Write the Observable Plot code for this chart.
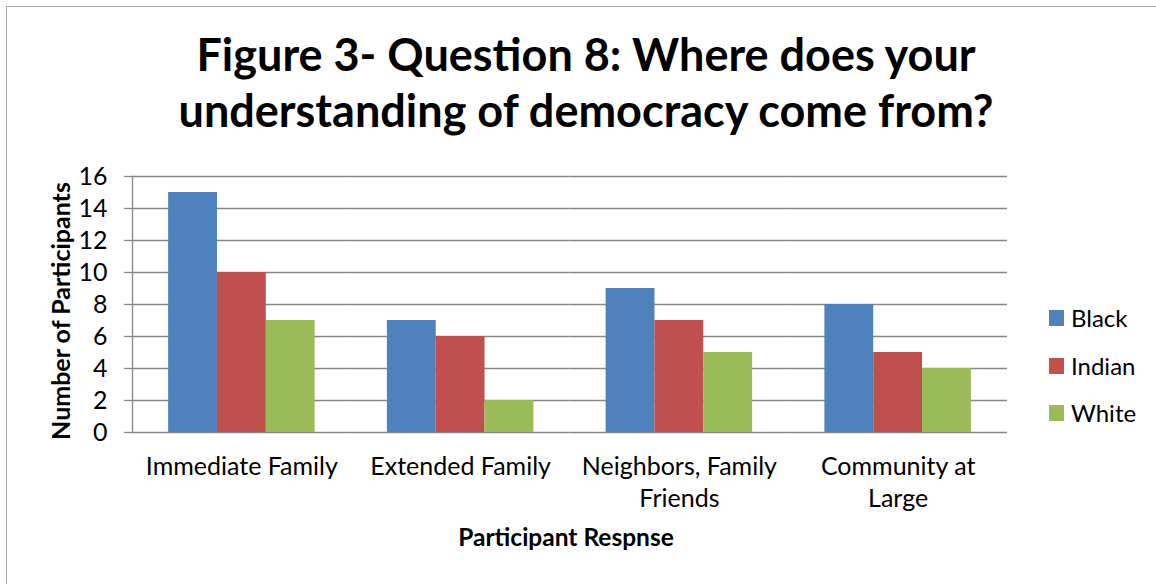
<!DOCTYPE html>
<html>
<head>
<meta charset="utf-8">
<script src="https://cdn.jsdelivr.net/npm/d3@7"></script>
<script src="https://cdn.jsdelivr.net/npm/@observablehq/plot@0.6"></script>
<style>
  html, body { margin: 0; padding: 0; background: #fff; }
  #chart { position: relative; width: 1156px; height: 584px; overflow: hidden; font-family: Lato, "Noto Sans", sans-serif; color: #000; }
  #border { position: absolute; left: 6px; top: 6px; width: 1300px; height: 700px; border-left: 1px solid #a6a6a6; border-top: 1px solid #a6a6a6; }
  #plot { position: absolute; left: 0; top: 0; }
  .title { position: absolute; left: 0; width: 1172px; text-align: center; font-weight: bold; font-size: 45px; white-space: nowrap; line-height: 1; }
  .ytitle { position: absolute; left: 60px; top: 311px; transform: translate(-50%, -50%) rotate(-90deg); font-weight: bold; font-size: 25px; white-space: nowrap; line-height: 1; }
  .xtitle { position: absolute; left: 0; width: 1132px; text-align: center; top: 525px; font-weight: bold; font-size: 24.5px; white-space: nowrap; line-height: 1; }
  .legend { position: absolute; left: 1049px; font-size: 24px; }
  .legend .item { position: absolute; left: 0; white-space: nowrap; height: 24px; }
  .legend .sw { position: absolute; left: 0; top: 4px; width: 15px; height: 16px; }
  .legend .lab { position: absolute; left: 22px; top: 0; line-height: 24px; }
</style>
</head>
<body>
<div id="chart">
  <div id="border"></div>
  <div id="plot"></div>
</div>
<script>
// ---- data ----
const titleLines = ["Figure 3- Question 8: Where does your", "understanding of democracy come from?"];
const yAxisTitle = "Number of Participants";
const xAxisTitle = "Participant Respnse";
const categories = ["Immediate Family", "Extended Family", "Neighbors, Family Friends", "Community at Large"];
const categoryLabels = ["Immediate Family", "Extended Family", "Neighbors, Family\nFriends", "Community at\nLarge"];
const series = ["Black", "Indian", "White"];
const blackValues = [15, 7, 9, 8];
const indianValues = [10, 6, 7, 5];
const whiteValues = [7, 2, 5, 4];
const seriesColors = ["#4F81BD", "#C0504D", "#9BBB59"];
const yTicks = [0, 2, 4, 6, 8, 10, 12, 14, 16];

const valuesBySeries = [blackValues, indianValues, whiteValues];
const table = categories.flatMap((c, i) =>
  series.map((s, j) => ({category: c, series: s, value: valuesBySeries[j][i]}))
);
const labelOf = new Map(categories.map((c, i) => [c, categoryLabels[i]]));

const gridColor = "#868686";

const plot = Plot.plot({
  width: 1156,
  height: 584,
  marginTop: 176,
  marginBottom: 152,
  marginLeft: 132,
  marginRight: 149,
  style: {fontFamily: "Lato, 'Noto Sans', sans-serif", fontSize: "25px", color: "#000", background: "transparent", overflow: "visible"},
  fx: {domain: categories, padding: 0, round: false, label: null},
  x: {domain: series, paddingInner: 0, paddingOuter: 0.74, round: false, axis: null},
  y: {domain: [0, 16], label: null},
  color: {domain: series, range: seriesColors},
  marks: [
    Plot.gridY(yTicks, {stroke: gridColor, strokeOpacity: 1, strokeWidth: 1.3}),
    Plot.axisY(yTicks, {tickSize: 8, tickPadding: 17, stroke: gridColor, strokeWidth: 1.3, label: null, tickFormat: d => String(d)}),
    Plot.barY(table, {fx: "category", x: "series", y: "value", fill: "series"}),
    Plot.frame({anchor: "left", facetAnchor: "left", stroke: gridColor, strokeWidth: 1.3}),
    Plot.axisFx({anchor: "bottom", tickSize: 0, tickPadding: 20, lineHeight: 1.28, label: null, tickFormat: d => labelOf.get(d)})
  ]
});
document.getElementById("plot").appendChild(plot);

const chart = document.getElementById("chart");
const titleTops = [32, 88];
titleLines.forEach((t, i) => {
  const el = document.createElement("div");
  el.className = "title";
  el.style.top = titleTops[i] + "px";
  el.textContent = t;
  chart.appendChild(el);
});
const yt = document.createElement("div");
yt.className = "ytitle";
yt.textContent = yAxisTitle;
chart.appendChild(yt);
const xt = document.createElement("div");
xt.className = "xtitle";
xt.textContent = xAxisTitle;
chart.appendChild(xt);

const legend = document.createElement("div");
legend.className = "legend";
legend.style.top = "0px";
const legendTops = [306, 354, 401];
series.forEach((s, i) => {
  const item = document.createElement("div");
  item.className = "item";
  item.style.top = legendTops[i] + "px";
  const sw = document.createElement("div");
  sw.className = "sw";
  sw.style.background = seriesColors[i];
  const lab = document.createElement("div");
  lab.className = "lab";
  lab.textContent = s;
  item.appendChild(sw);
  item.appendChild(lab);
  legend.appendChild(item);
});
chart.appendChild(legend);
</script>
</body>
</html>
